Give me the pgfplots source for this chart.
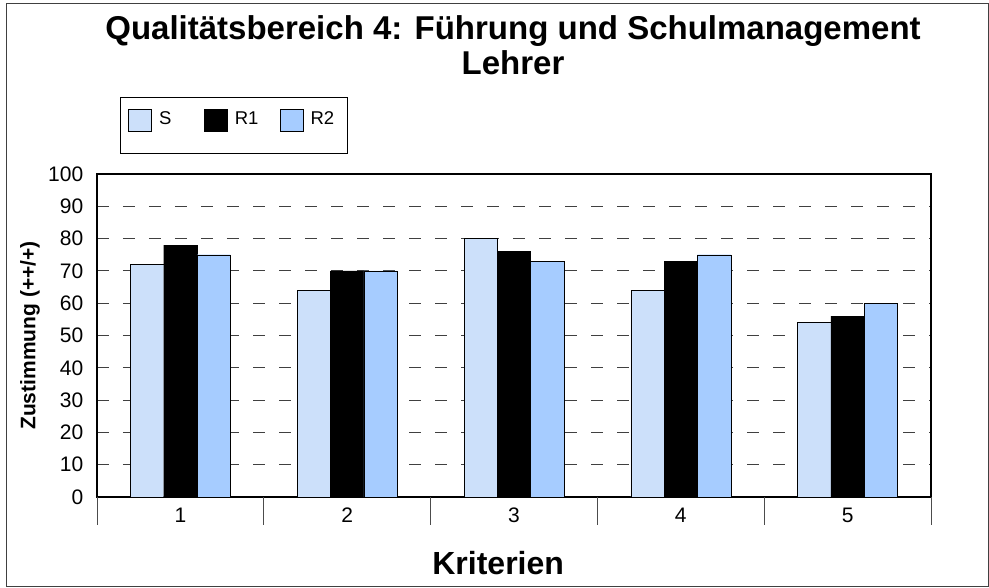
\documentclass[border=0pt]{standalone}
\usepackage{fontspec}
\setmainfont{Liberation Sans}
\usepackage{pgfplots}
\pgfplotsset{compat=1.18}
\definecolor{sBlue}{RGB}{204,224,250}
\definecolor{rBlue}{RGB}{166,204,255}
\begin{document}
\begin{tikzpicture}[x=1pt,y=1pt]
\useasboundingbox (-97,-90) rectangle (892,497);
\draw[black!75, line width=0.8pt] (-91,-89) rectangle (891,494);
\begin{axis}[
  at={(0,0)}, anchor=south west,
  scale only axis, width=834pt, height=323pt,
  ybar=0pt, bar width=33.3pt,
  xmin=0.5, xmax=5.5, ymin=0, ymax=100,
  xtick={1,2,3,4,5},
  xtick pos=bottom, ytick pos=left,
  tick align=outside,
  x tick style={draw=none},
  extra x ticks={0.5,1.5,2.5,3.5,4.5,5.5},
  extra x tick labels={},
  extra x tick style={grid=none, major tick length=28pt, xtick style={draw=black!70, line width=0.8pt}},
  ytick={0,10,...,100},
  y tick style={draw=none},
  ymajorgrids,
  major grid style={black!75, line width=0.9pt, dash pattern=on 12pt off 14pt},
  axis line style={line width=2.6pt},
  /pgf/number format/assume math mode=true,
  tick label style={font=\fontsize{21}{21}\selectfont},
  xticklabel style={yshift=-3pt},
  yticklabel style={xshift=-6pt},
  legend style={draw=none, fill=none, inner sep=0pt, nodes={inner sep=0pt},
    at={(axis description cs:0.0372,1.2012)}, anchor=north west,
    legend columns=3, font=\fontsize{18.5}{18.5}\selectfont,
    /tikz/every odd column/.append style={column sep=7pt}},
  legend image code/.code={\draw[#1, line width=0.8pt] (0pt,-11pt) rectangle (23pt,11pt);},
  xlabel={\bfseries Kriterien},
  xlabel style={font=\fontsize{32}{32}\selectfont, at={(axis description cs:0.481,-0.2043)}, anchor=center},
  ylabel={\bfseries Zustimmung (++/+)},
  ylabel style={font=\fontsize{21}{21}\selectfont, at={(axis description cs:-0.0803,0.5)}, anchor=center, rotate=0},
]
\addplot[fill=sBlue, draw=black] coordinates {(1,72) (2,64) (3,80) (4,64) (5,54)};
\addplot[fill=black, draw=black] coordinates {(1,78) (2,70) (3,76) (4,73) (5,56)};
\addplot[fill=rBlue, draw=black] coordinates {(1,75) (2,70) (3,73) (4,75) (5,60)};
\addlegendentry{\makebox[45pt][l]{\raisebox{4pt}{S}}}
\addlegendentry{\makebox[45pt][l]{\raisebox{4pt}{R1}}}
\addlegendentry{\makebox[45pt][l]{\raisebox{4pt}{R2}}}
\end{axis}
\draw[black, line width=0.8pt] (23,344) rectangle (250,400);
\node[font=\bfseries\fontsize{33}{33}\selectfont, anchor=center] at (416,466) {Qualitätsbereich 4: Führung und Schulmanagement};
\node[font=\bfseries\fontsize{33}{33}\selectfont, anchor=center] at (416,434) {Lehrer};
\end{tikzpicture}
\end{document}
